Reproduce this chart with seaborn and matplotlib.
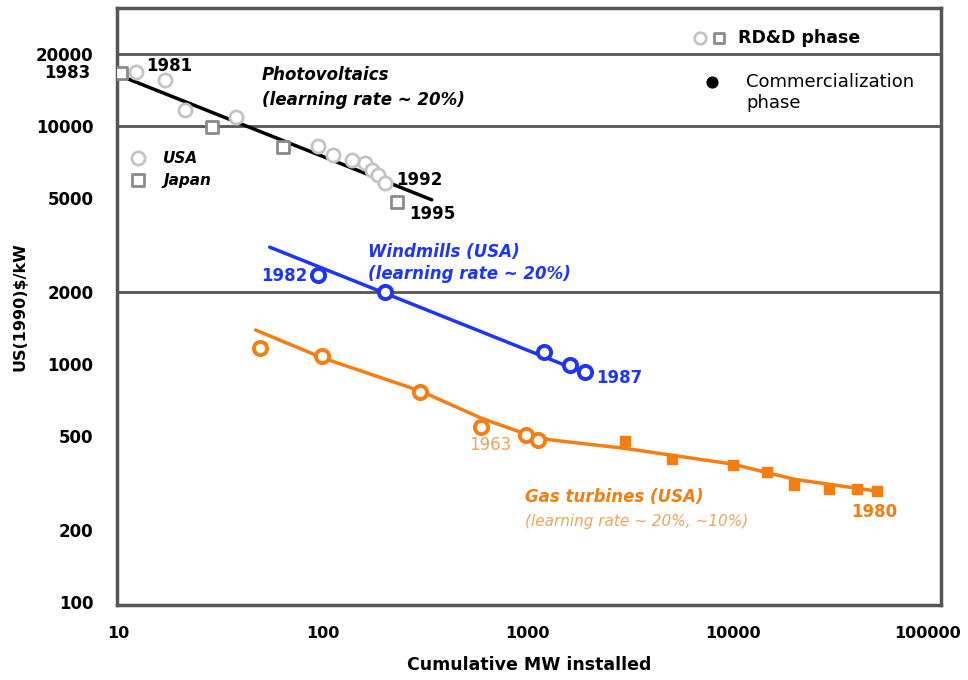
import matplotlib
matplotlib.use("Agg")
import matplotlib.pyplot as plt
import matplotlib.transforms as mtransforms
import seaborn as sns

# Photovoltaics, RD&D phase
pv_usa_mw = [12.2, 16.9, 21.2, 37.7, 94.6, 112, 138, 160, 173, 185, 200]
pv_usa_cost = [16900, 15600, 11700, 10900, 8240, 7560, 7200, 7020, 6530, 6220, 5770]
pv_japan_mw = [10.3, 28.8, 63.8, 230]
pv_japan_cost = [16700, 9900, 8170, 4800]
pv_fit_mw = [10, 340]
pv_fit_cost = [16400, 4900]

# Windmills (USA)
wind_mw = [94.6, 200, 1197, 1603, 1897]
wind_cost = [2366, 2010, 1122, 990, 925]
wind_fit_mw = [55, 2000]
wind_fit_cost = [3100, 900]

# Gas turbines (USA)
gas_rdd_mw = [49.3, 99, 297, 590, 978, 1119]
gas_rdd_cost = [1167, 1081, 762, 543, 503, 480]
gas_com_mw = [2970, 5035, 10100, 14800, 20000, 29700, 40300, 50900]
gas_com_cost = [475, 399, 376, 352, 310, 299, 299, 293]
gas_fit_mw = [47, 100, 300, 600, 1000, 1300, 2000, 3000, 10000, 20000, 50000]
gas_fit_cost = [1390, 1060, 770, 590, 505, 480, 460, 442, 380, 328, 293]

x_ticks = [10, 100, 1000, 10000, 100000]
y_ticks = [100, 200, 500, 1000, 2000, 5000, 10000, 20000]
sep_lines = [20000, 10000, 2000]

BLUE = "#1f35f5"
ORANGE = "#f57d12"
LIGHT_ORANGE = "#f2a45c"
FRAME = "#555555"

sns.set_style("white")
plt.rcParams["font.family"] = ["DejaVu Sans"]
plt.rcParams["text.color"] = "black"
plt.rcParams["axes.labelcolor"] = "black"
plt.rcParams["xtick.labelcolor"] = "black"
plt.rcParams["ytick.labelcolor"] = "black"

fig = plt.figure(figsize=(9.68, 6.8), dpi=100)
ax = fig.add_axes([0.121, 0.110, 0.851, 0.878])
ax.set_xscale("log")
ax.set_yscale("log")
ax.set_xlim(9.9, 104000)
ax.set_ylim(97, 31300)

for v in sep_lines:
    ax.axhline(v, color=FRAME, lw=2, zorder=1)

# fit lines
sns.lineplot(x=pv_fit_mw, y=pv_fit_cost, color="black", lw=2.5, ax=ax, zorder=2)
sns.lineplot(x=wind_fit_mw, y=wind_fit_cost, color=BLUE, lw=2.5, ax=ax, zorder=2)
sns.lineplot(x=gas_fit_mw, y=gas_fit_cost, color=ORANGE, lw=2.5, ax=ax, zorder=2)

# points
sns.scatterplot(x=pv_usa_mw, y=pv_usa_cost, marker="o", s=90, facecolor="white",
                edgecolor="#c4c4c4", linewidth=2, ax=ax, zorder=3)
sns.scatterplot(x=pv_japan_mw, y=pv_japan_cost, marker="s", s=80, facecolor="white",
                edgecolor="#8a8a8a", linewidth=2, ax=ax, zorder=3)
sns.scatterplot(x=wind_mw, y=wind_cost, marker="o", s=90, facecolor="white",
                edgecolor=BLUE, linewidth=2.8, ax=ax, zorder=3)
sns.scatterplot(x=gas_rdd_mw, y=gas_rdd_cost, marker="o", s=90, facecolor="white",
                edgecolor=ORANGE, linewidth=2.8, ax=ax, zorder=3)
sns.scatterplot(x=gas_com_mw, y=gas_com_cost, marker="s", s=60, color=ORANGE,
                edgecolor=ORANGE, linewidth=1, ax=ax, zorder=3)

# year labels
def year(txt, x, y, dx, dy, color="black", ha="left", weight="bold"):
    ax.annotate(txt, xy=(x, y), xytext=(dx, dy), textcoords="offset pixels",
                ha=ha, va="center", fontsize=12, fontweight=weight, color=color,
                annotation_clip=False)

year("1981", pv_usa_mw[0], pv_usa_cost[0], 10, 6)
year("1983", pv_japan_mw[0], pv_japan_cost[0], -30, 0, ha="right")
year("1992", pv_usa_mw[-1], pv_usa_cost[-1], 12, 3)
year("1995", pv_japan_mw[-1], pv_japan_cost[-1], 12, -12)
year("1982", wind_mw[0], wind_cost[0], -10, -1, color=BLUE, ha="right")
year("1987", wind_mw[-1], wind_cost[-1], 12, -6, color=BLUE)
year("1963", gas_rdd_mw[3], gas_rdd_cost[3], -12, -18, color=LIGHT_ORANGE, weight="normal")
year("1980", gas_com_mw[-1], gas_com_cost[-1], -26, -21, color=ORANGE)

# series captions
ax.text(0.176, 0.888, "Photovoltaics", transform=ax.transAxes, fontsize=12,
        fontweight="bold", fontstyle="italic", va="center")
ax.text(0.176, 0.846, "(learning rate ~ 20%)", transform=ax.transAxes, fontsize=12,
        fontweight="bold", fontstyle="italic", va="center")
ax.text(0.305, 0.591, "Windmills (USA)", transform=ax.transAxes, fontsize=12,
        fontweight="bold", fontstyle="italic", va="center", color=BLUE)
ax.text(0.305, 0.554, "(learning rate ~ 20%)", transform=ax.transAxes, fontsize=12,
        fontweight="bold", fontstyle="italic", va="center", color=BLUE)
ax.text(0.495, 0.181, "Gas turbines (USA)", transform=ax.transAxes, fontsize=12,
        fontweight="bold", fontstyle="italic", va="center", color=ORANGE)
ax.text(0.495, 0.141, "(learning rate ~ 20%, ~10%)", transform=ax.transAxes, fontsize=11,
        fontstyle="italic", va="center", color=LIGHT_ORANGE)

# inline legends
ax.scatter([0.0255], [0.749], transform=ax.transAxes, marker="o", s=90, facecolor="white",
           edgecolor="#c4c4c4", linewidth=2, zorder=3)
ax.scatter([0.0255], [0.712], transform=ax.transAxes, marker="s", s=70, facecolor="white",
           edgecolor="#8a8a8a", linewidth=2, zorder=3)
ax.text(0.056, 0.749, "USA", transform=ax.transAxes, fontsize=11, fontweight="bold",
        fontstyle="italic", va="center")
ax.text(0.056, 0.712, "Japan", transform=ax.transAxes, fontsize=11, fontweight="bold",
        fontstyle="italic", va="center")

ax.scatter([0.7075], [0.950], transform=ax.transAxes, marker="o", s=70, facecolor="white",
           edgecolor="#c4c4c4", linewidth=2, zorder=3)
ax.scatter([0.731], [0.950], transform=ax.transAxes, marker="s", s=60, facecolor="white",
           edgecolor="#8a8a8a", linewidth=2, zorder=3)
ax.text(0.754, 0.950, "RD&D phase", transform=ax.transAxes, fontsize=12.5,
        fontweight="bold", va="center")
ax.scatter([0.722], [0.876], transform=ax.transAxes, marker="o", s=60, color="black", zorder=3)
ax.text(0.764, 0.876, "Commercialization", transform=ax.transAxes, fontsize=13, va="center")
ax.text(0.764, 0.841, "phase", transform=ax.transAxes, fontsize=13, va="center")

# axes styling
ax.set_xticks(x_ticks)
ax.set_xticklabels([str(v) for v in x_ticks])
ax.set_yticks(y_ticks)
ax.set_yticklabels([str(v) for v in y_ticks])
ax.minorticks_off()
ax.tick_params(axis="x", direction="out", length=8, width=2, color=FRAME, pad=7,
               labelsize=11.5)
ax.tick_params(axis="y", direction="out", length=0, pad=17, labelsize=12)
for lab in ax.get_xticklabels() + ax.get_yticklabels():
    lab.set_fontweight("bold")
# pull the last x label in so it stays inside the figure
last = ax.get_xticklabels()[-1]
last.set_transform(last.get_transform() +
                   mtransforms.ScaledTranslation(-0.1, 0, fig.dpi_scale_trans))
for side in ["left", "right", "top", "bottom"]:
    ax.spines[side].set_color(FRAME)
    ax.spines[side].set_linewidth(2.5)

ax.set_xlabel("Cumulative MW installed", fontsize=12.5, fontweight="bold", labelpad=11)
ax.set_ylabel("US(1990)$/kW", fontsize=11.5, fontweight="bold", labelpad=6)

fig.savefig("out.png", dpi=100)
